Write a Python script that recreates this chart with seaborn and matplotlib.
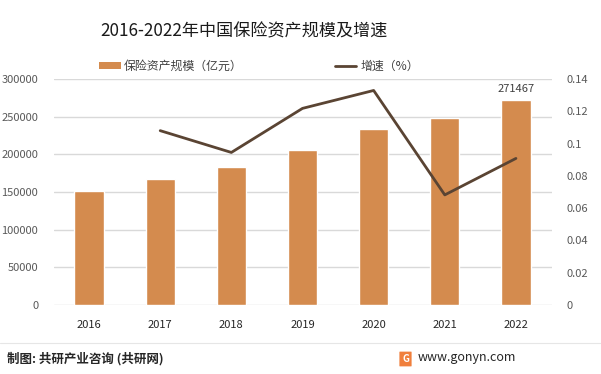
import numpy as np
import pandas as pd
import matplotlib
matplotlib.use("Agg")
import matplotlib.pyplot as plt
import seaborn as sns
from matplotlib.patches import Patch, FancyBboxPatch
from matplotlib.lines import Line2D

years = ["2016", "2017", "2018", "2019", "2020", "2021", "2022"]
assets = [151169, 167489, 183309, 205645, 232984, 248874, 271467]
growth_years = ["2017", "2018", "2019", "2020", "2021", "2022"]
growth = [0.108, 0.0945, 0.1218, 0.1329, 0.0682, 0.0908]
left_ticks = [0, 50000, 100000, 150000, 200000, 250000, 300000]
right_ticks = [0, 0.02, 0.04, 0.06, 0.08, 0.1, 0.12, 0.14]
right_labels = ["0", "0.02", "0.04", "0.06", "0.08", "0.1", "0.12", "0.14"]

title = "2016-2022年中国保险资产规模及增速"
bar_label = "保险资产规模（亿元）"
line_label = "增速（%）"
source = "制图: 共研产业咨询 (共研网)"
site = "www.gonyn.com"

sns.set_theme(style="white")
plt.rcParams['font.family'] = ['Noto Sans CJK SC', 'DejaVu Sans']

BAR_C = "#d48b4e"
LINE_C = "#5a4433"
TXT_C = "#595959"
GRID_C = "#d9d9d9"

fig = plt.figure(figsize=(6.01, 3.74), dpi=100)
ax = fig.add_axes([53.5 / 601, 1 - 305 / 374, 498 / 601, 226 / 374])

df = pd.DataFrame({"year": years, "assets": assets})
sns.barplot(data=df, x="year", y="assets", color=BAR_C, width=0.41,
            saturation=1, ax=ax, zorder=3)
ax.set_xlim(-0.5, 6.5)
ax.set_ylim(0, 300000)
ax.set_yticks(left_ticks)
ax.set_yticklabels([str(t) for t in left_ticks])
ax.grid(axis="y", color=GRID_C, linewidth=1, zorder=0)
ax.set_axisbelow(True)
for s in ax.spines.values():
    s.set_visible(False)
ax.tick_params(axis="both", length=0, labelsize=8, colors=TXT_C)
ax.tick_params(axis="x", pad=11, labelcolor="#262626")
ax.tick_params(axis="y", pad=11)
ax.set_xlabel("")
ax.set_ylabel("")

# data label for last bar
ax.text(len(years) - 1, assets[-1] + 8500, str(assets[-1]), ha="center",
        va="bottom", fontsize=8, color="#404040")

ax2 = ax.twinx()
gdf = pd.DataFrame({"x": [years.index(y) for y in growth_years], "g": growth})
sns.lineplot(data=gdf, x="x", y="g", color=LINE_C, linewidth=2, ax=ax2)
ax2.set_ylim(0, 0.14)
ax2.set_yticks(right_ticks)
ax2.set_yticklabels(right_labels)
ax2.set_xlim(-0.5, 6.5)
for s in ax2.spines.values():
    s.set_visible(False)
ax2.tick_params(axis="y", length=0, labelsize=8, colors=TXT_C, pad=11)
ax2.set_ylabel("")
ax2.set_xlabel("")

fig.text(244 / 601, 1 - 31 / 374, title, ha="center", va="center", fontsize=12.3,
         color="#1a1a1a")

leg_kw = dict(loc="center left", frameon=False, fontsize=8.6, handlelength=1.8,
              handletextpad=0.3, handleheight=0.55, labelcolor="#404040",
              borderpad=0, borderaxespad=0)
leg1 = fig.legend([Patch(facecolor=BAR_C, edgecolor="none")], [bar_label],
                  bbox_to_anchor=(99 / 601, 1 - 66 / 374), **leg_kw)
leg2 = fig.legend([Line2D([0], [0], color=LINE_C, linewidth=2)], [line_label],
                  bbox_to_anchor=(335 / 601, 1 - 66 / 374), **leg_kw)

# footer separator
fig.add_artist(Line2D([0, 1], [1 - 343 / 374, 1 - 343 / 374],
                      transform=fig.transFigure, color="#e6e6e6", linewidth=0.8))
fig.text(7 / 601, 1 - 359 / 374, source, ha="left", va="center", fontsize=9,
         color="#262626", fontweight="bold")
fig.add_artist(FancyBboxPatch((400 / 601, 1 - 366 / 374), 11 / 601, 14 / 374,
                              boxstyle="round,pad=0.001", transform=fig.transFigure,
                              facecolor="#f07f3c", edgecolor="none"))
fig.text(405.5 / 601, 1 - 359 / 374, "G", ha="center", va="center", fontsize=7,
         color="white", fontweight="bold")
fig.text(418 / 601, 1 - 358 / 374, site, ha="left", va="center", fontsize=9,
         color="#262626")

fig.savefig("out.png", dpi=100)
